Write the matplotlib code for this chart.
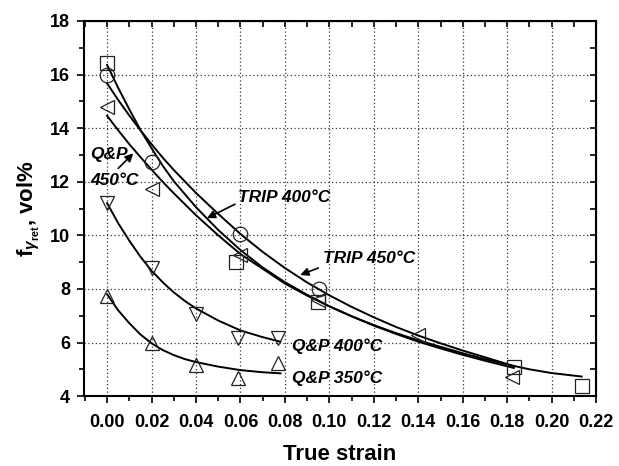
import numpy as np
import matplotlib
matplotlib.use("Agg")
import matplotlib.pyplot as plt

plt.rcParams['font.family'] = ['Liberation Sans', 'DejaVu Sans']
plt.rcParams['font.weight'] = 'bold'
plt.rcParams['mathtext.fontset'] = 'custom'
plt.rcParams['mathtext.rm'] = 'Liberation Sans:bold'
plt.rcParams['mathtext.bf'] = 'Liberation Sans:bold'
plt.rcParams['mathtext.it'] = 'Liberation Sans:italic'

# measured points
trip400_x = [0.0, 0.058, 0.095, 0.183, 0.2135]
trip400_y = [16.43, 9.02, 7.5, 5.1, 4.39]
trip450_x = [0.0, 0.02, 0.06, 0.0955]
trip450_y = [16.0, 12.73, 10.04, 7.99]
qp450_x = [0.0, 0.02, 0.06, 0.095, 0.1397, 0.182]
qp450_y = [14.8, 11.72, 9.27, 7.6, 6.28, 4.73]
qp400_x = [0.0, 0.02, 0.04, 0.059, 0.0768]
qp400_y = [11.22, 8.77, 7.06, 6.16, 6.16]
qp350_x = [0.0, 0.02, 0.04, 0.059, 0.077]
qp350_y = [7.74, 5.97, 5.16, 4.67, 5.25]

# fitted curves
fit_trip400_x = [0.0, 0.005, 0.01, 0.015, 0.02, 0.025, 0.03, 0.04, 0.05, 0.06, 0.07, 0.08,
                 0.09, 0.10, 0.11, 0.12, 0.13, 0.14, 0.15, 0.16, 0.17, 0.18, 0.19, 0.20, 0.2135]
fit_trip400_y = [16.36, 15.5, 14.7, 13.93, 13.25, 12.6, 12.02, 11.05, 10.2, 9.45, 8.8, 8.25,
                 7.78, 7.35, 6.98, 6.65, 6.35, 6.08, 5.84, 5.6, 5.38, 5.18, 5.0, 4.86, 4.73]
fit_trip450_x = [0.0, 0.005, 0.01, 0.015, 0.02, 0.025, 0.03, 0.04, 0.05, 0.06, 0.07, 0.08,
                 0.09, 0.10, 0.11, 0.12, 0.13, 0.14, 0.15, 0.16, 0.17, 0.183]
fit_trip450_y = [15.67, 15.05, 14.47, 13.92, 13.4, 12.9, 12.44, 11.58, 10.8, 10.05, 9.38, 8.78,
                 8.24, 7.76, 7.33, 6.94, 6.58, 6.26, 5.97, 5.7, 5.45, 5.12]
fit_qp450_x = [0.0, 0.005, 0.01, 0.015, 0.02, 0.025, 0.03, 0.04, 0.05, 0.06, 0.07, 0.08,
               0.09, 0.10, 0.11, 0.12, 0.13, 0.14, 0.15, 0.16, 0.17, 0.183]
fit_qp450_y = [14.46, 13.92, 13.4, 12.92, 12.45, 12.0, 11.57, 10.75, 10.0, 9.3, 8.75, 8.2,
               7.75, 7.35, 6.98, 6.63, 6.32, 6.03, 5.78, 5.54, 5.32, 5.05]
fit_qp400_x = [0.0, 0.005, 0.01, 0.015, 0.02, 0.025, 0.03, 0.035, 0.04, 0.05, 0.06, 0.07, 0.078]
fit_qp400_y = [11.2, 10.45, 9.8, 9.2, 8.68, 8.25, 7.87, 7.55, 7.27, 6.82, 6.45, 6.2, 6.03]
fit_qp350_x = [0.0, 0.005, 0.01, 0.015, 0.02, 0.025, 0.03, 0.035, 0.04, 0.05, 0.06, 0.07, 0.078]
fit_qp350_y = [7.8, 7.2, 6.72, 6.3, 5.97, 5.72, 5.53, 5.38, 5.27, 5.1, 4.97, 4.89, 4.85]

fig = plt.figure(figsize=(6.19, 4.66), dpi=100)
ax = fig.add_axes([0.1357, 0.150, 0.8273, 0.805])

# curves
for fx, fy in [(fit_trip400_x, fit_trip400_y), (fit_trip450_x, fit_trip450_y),
               (fit_qp450_x, fit_qp450_y), (fit_qp400_x, fit_qp400_y),
               (fit_qp350_x, fit_qp350_y)]:
    ax.plot(fx, fy, color='black', lw=1.4, zorder=3)

mk = dict(ls='none', mfc='none', mec='#222222', mew=0.9, ms=10.5, zorder=4)
ax.plot(trip400_x, trip400_y, marker='s', **mk)
ax.plot(trip450_x, trip450_y, marker='o', **mk)
ax.plot(qp450_x, qp450_y, marker='<', **mk)
ax.plot(qp400_x, qp400_y, marker='v', **mk)
ax.plot(qp350_x, qp350_y, marker='^', **mk)

ax.set_xlim(-0.0104, 0.22)
ax.set_ylim(4, 18)
ax.set_xticks(np.arange(0, 0.2201, 0.02))
ax.set_xticks(np.arange(-0.01, 0.2201, 0.01), minor=True)
ax.set_yticks(np.arange(4, 18.1, 2))
ax.set_yticks(np.arange(4, 18.1, 1), minor=True)
ax.set_xticklabels(['%.2f' % v for v in np.arange(0, 0.2201, 0.02)])
ax.grid(True, which='major', ls=(0, (1, 2)), color='#333333', lw=0.9)

for s in ax.spines.values():
    s.set_linewidth(1.5)
ax.tick_params(which='both', direction='out', labelsize=13, width=1.2)
ax.tick_params(which='major', length=5)
ax.tick_params(which='minor', length=3.5)
ax.tick_params(axis='x', pad=8)
ax.tick_params(axis='y', pad=5)

top = ax.secondary_xaxis('top')
top.set_xticks(ax.get_xticks())
top.set_xticks(np.arange(-0.01, 0.2201, 0.01), minor=True)
top.tick_params(which='both', direction='in', labeltop=False, length=4, width=1.2)
right = ax.secondary_yaxis('right')
right.set_yticks(ax.get_yticks())
right.set_yticks(np.arange(4, 18.1, 1), minor=True)
right.tick_params(which='both', direction='in', labelright=False, length=4, width=1.2)

ax.set_xlabel('True strain', fontsize=16, fontweight='bold', labelpad=9)
ax.set_ylabel(r'f$_{\gamma_{\mathrm{ret}}}$, vol%', fontsize=16, fontweight='bold', labelpad=6)

tk = dict(fontsize=12.5, fontweight='bold', style='italic', va='center', ha='left')
ax.text(-0.0077, 13.0, 'Q&P', **tk)
ax.text(-0.0077, 12.03, '450°C', **tk)
ax.text(0.059, 11.43, 'TRIP 400°C', **tk)
ax.text(0.0972, 9.12, 'TRIP 450°C', **tk)
ax.text(0.0833, 5.87, 'Q&P 400°C', **tk)
ax.text(0.0831, 4.68, 'Q&P 350°C', **tk)

ap = dict(arrowstyle='-|>', color='black', lw=1.2, mutation_scale=12, shrinkA=0, shrinkB=0)
ax.annotate('', xy=(0.0118, 13.06), xytext=(0.0050, 12.50), arrowprops=ap)
ax.annotate('', xy=(0.0449, 10.64), xytext=(0.0575, 11.16), arrowprops=ap)
ax.annotate('', xy=(0.0869, 8.52), xytext=(0.0950, 8.78), arrowprops=ap)

fig.savefig('out.png', dpi=100)
